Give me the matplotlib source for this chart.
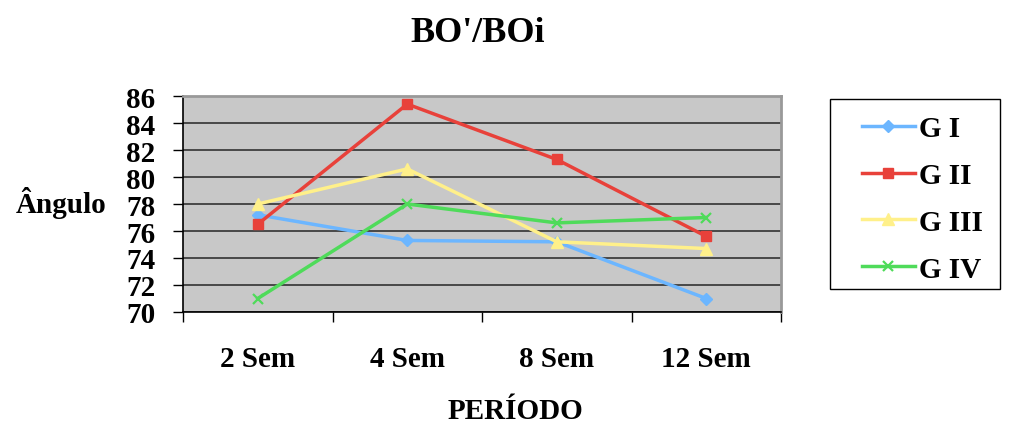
import matplotlib
matplotlib.use("Agg")
import matplotlib.pyplot as plt
from matplotlib.ticker import FixedLocator, NullFormatter
from matplotlib.patches import Rectangle

categories = ["2 Sem", "4 Sem", "8 Sem", "12 Sem"]
g1 = [77.2, 75.3, 75.2, 71.0]
g2 = [76.5, 85.4, 81.3, 75.6]
g3 = [78.0, 80.6, 75.2, 74.7]
g4 = [71.0, 78.0, 76.6, 77.0]
series_names = ["G I", "G II", "G III", "G IV"]
yticks = [70, 72, 74, 76, 78, 80, 82, 84, 86]

plt.rcParams['font.family'] = ['Liberation Serif', 'DejaVu Serif']
plt.rcParams['font.weight'] = 'bold'

FS = 21
W, H = 1009, 427

fig = plt.figure(figsize=(10.09, 4.27), dpi=100)
ax = fig.add_axes([183/W, 1-313/H, (781-183)/W, (313-97)/H])
ax.set_facecolor('#C8C8C8')

styles = [
    dict(color='#6CB6FF', marker='D', markersize=6.5),
    dict(color='#E8413A', marker='s', markersize=7.5),
    dict(color='#FFF08A', marker='^', markersize=8.5),
    dict(color='#4FDB5A', marker='x', markersize=7, markeredgewidth=1.6),
]
x = list(range(len(categories)))
for vals, name, st in zip([g1, g2, g3, g4], series_names, styles):
    ax.plot(x, vals, label=name, linewidth=2.5, zorder=3, **st)

ax.set_xlim(-0.5, len(categories) - 0.5)
ax.set_ylim(70, 86)
ax.set_yticks(yticks)
ax.set_yticklabels([str(v) for v in yticks], fontsize=FS, fontweight='bold')
ax.yaxis.grid(True, color='#333333', linewidth=1.2)
ax.set_axisbelow(True)

ax.xaxis.set_major_locator(FixedLocator([-0.5, 0.5, 1.5, 2.5, 3.5]))
ax.xaxis.set_major_formatter(NullFormatter())
ax.xaxis.set_minor_locator(FixedLocator(x))
ax.set_xticklabels(categories, minor=True, fontsize=FS, fontweight='bold')
ax.tick_params(axis='x', which='minor', length=0, pad=24)
ax.tick_params(axis='x', which='major', length=7, width=1, direction='out')
ax.tick_params(axis='y', length=7, width=1, direction='out', pad=13)

for s in ['left', 'bottom']:
    ax.spines[s].set_color('black')
    ax.spines[s].set_linewidth(1.2)
for s in ['top', 'right']:
    ax.spines[s].set_color('#999999')
    ax.spines[s].set_linewidth(2)

fig.text(478/W, 1-33/H, "BO'/BOi", ha='center', va='center', fontsize=26, fontweight='bold')
fig.text(61/W, 1-203/H, "Ângulo", ha='center', va='center', fontsize=FS, fontweight='bold')
fig.text(515/W, 1-412/H, "PERÍODO", ha='center', va='center', fontsize=FS, fontweight='bold')

# legend frame drawn as a separate rectangle
fig.patches.append(Rectangle((830/W, 1-290/H), 170/W, 190/H, transform=fig.transFigure,
                             facecolor='white', edgecolor='black', linewidth=1.0, zorder=0))
leg = fig.legend(loc='upper left', bbox_to_anchor=(862/W, 1-116/H), frameon=False,
                 prop={'size': FS, 'weight': 'bold'},
                 labelspacing=0.68, handlelength=1.8, borderpad=0, handletextpad=0.15,
                 borderaxespad=0)

fig.savefig("out.png", dpi=100, facecolor='white')
